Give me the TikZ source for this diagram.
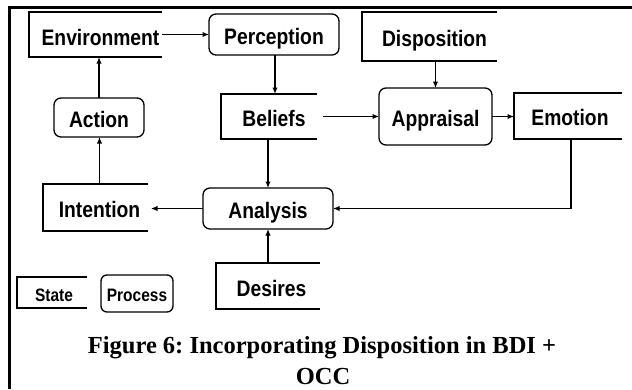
\documentclass[tikz,border=0pt]{standalone}
\usepackage{fontspec}
\usetikzlibrary{arrows.meta}
\newfontfamily\nodefont[FakeStretch=0.86]{Liberation Sans}
\newfontfamily\capfont{Liberation Serif}
\begin{document}
\begin{tikzpicture}[x=1pt,y=-1pt,
  boxline/.style={line width=1.3pt},
  lbl/.style={font=\nodefont\bfseries\fontsize{22.4}{26}\selectfont,
    text height=19pt, text depth=0pt},
  smalllbl/.style={font=\nodefont\bfseries\fontsize{18}{21}\selectfont,
    text height=16pt, text depth=0pt},
  statebox/.style 2 args={inner sep=0pt, outer sep=0pt, minimum width=#1,
    execute at begin node={\hspace*{#2}}},
  procbox/.style={draw, boxline, rounded corners=7pt, inner sep=0pt,
    outer sep=0pt, minimum width=#1},
  flow/.style={line width=1.3pt, -{Latex[length=6.5pt,width=5.5pt]}},
  caption/.style={font=\capfont\bfseries\fontsize{24.5}{29}\selectfont\frenchspacing,
    anchor=base, inner sep=0pt}
]
\useasboundingbox (0,0) rectangle (632,389);

% outer frame (top and left sides only)
\draw[line width=3pt, line join=miter] (9.5,389) -- (9.5,7) -- (632,7);

% states
\node[lbl, statebox={133}{10pt}, minimum height=45, text height=21pt] (env) at (95.5,34.5) {Environment};
\node[lbl, statebox={135}{10pt}, minimum height=49] (disp) at (429.5,36.5) {Disposition};
\node[lbl, statebox={96}{10pt},  minimum height=45] (bel)  at (269,116.5)  {Beliefs};
\node[lbl, statebox={108}{4pt},  minimum height=46] (emo)  at (568,116)    {Emotion};
\node[lbl, statebox={105}{8pt},  minimum height=47, text height=20pt] (int) at (95.5,207.5) {Intention};
\node[lbl, statebox={104}{7pt},  minimum height=46, text height=21pt] (des) at (268,286) {Desires};
\node[smalllbl, statebox={70}{4pt}, minimum height=31, text height=18pt] (stlg) at (52,292.5) {State};

% processes
\node[procbox=130, minimum height=41, lbl] (per) at (274,34.5)   {Perception};
\node[procbox=90,  minimum height=39, lbl] (act) at (99,117.5)   {Action};
\node[procbox=113, minimum height=57, lbl] (app) at (435.5,116.5) {Appraisal};
\node[procbox=130, minimum height=41, lbl] (ana) at (268,208.5)  {Analysis};
\node[procbox=72,  minimum height=37, smalllbl, rounded corners=6pt] (prlg) at (137,293.5) {Process};

% state outlines: open on the right
\foreach \n in {env,disp,bel,emo,int,des,stlg}
  \draw[boxline] (\n.north east) -- (\n.north west) -- (\n.south west) -- (\n.south east);

% connectors
\draw[flow] (env.east) -- (per.west);
\draw[flow] ([xshift=1pt]per.south) -- ([xshift=1pt]per.south |- bel.north);
\draw[flow] (app.north |- disp.south) -- (app.north);
\draw[flow, shorten <=6pt] (bel.east) -- (app.west);
\draw[flow] (app.east) -- (app.east -| emo.west);
\draw[flow] ([xshift=3pt]emo.south) |- (ana.east);
\draw[flow] (ana.north |- bel.south) -- (ana.north);
\draw[flow] (des.north) -- (ana.south);
\draw[flow, shorten >=3pt] (ana.west) -- (ana.west -| int.east);
\draw[flow] ([xshift=4pt]int.north) -- ([xshift=4pt]int.north |- act.south);
\draw[flow] (act.north) -- (act.north |- env.south);

% caption
\node[caption] (cap1) at (322,353) {Figure 6: Incorporating Disposition in BDI +};
\node[caption] (cap2) at (323,384) {OCC};
\end{tikzpicture}
\end{document}
